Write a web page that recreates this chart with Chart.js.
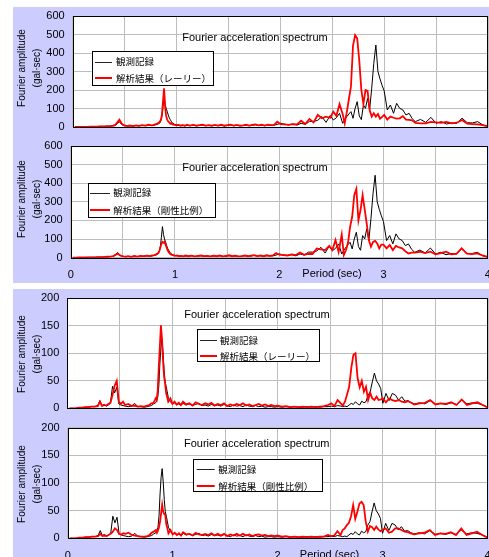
<!DOCTYPE html>
<html><head><meta charset="utf-8">
<script src="https://cdn.jsdelivr.net/npm/chart.js@4.4.0/dist/chart.umd.min.js"></script>
<style>
html,body{margin:0;padding:0;background:#fff;width:489px;height:557px;overflow:hidden;}
.bg{position:absolute;background:#CCCCFF;}
canvas{position:absolute;left:0;}
</style></head><body>
<div class="bg" style="left:13px;top:7px;width:476px;height:276px"></div>
<div class="bg" style="left:13px;top:289px;width:476px;height:268px"></div>
<canvas id="c1" width="489" height="135" style="top:0px"></canvas>
<canvas id="c2" width="489" height="148" style="top:135px"></canvas>
<canvas id="c3" width="489" height="135" style="top:283px"></canvas>
<canvas id="c4" width="489" height="139" style="top:418px"></canvas>
<script>
// ---- data (period in sec, Fourier amplitude in gal·sec) ----
const periods = [
 0.02,0.05,0.08,0.11,0.14,0.17,0.20,0.23,0.26,0.29,
 0.31,0.33,0.35,0.37,0.39,0.41,0.43,0.45,0.47,0.49,
 0.51,0.53,0.55,0.58,0.61,0.64,0.67,0.70,0.73,0.76,
 0.78,0.80,0.82,0.84,0.85,0.86,0.87,0.88,0.89,0.90,
 0.91,0.92,0.93,0.94,0.95,0.96,0.98,1.00,1.02,1.04,
 1.06,1.08,1.10,1.13,1.16,1.19,1.22,1.25,1.28,1.31,
 1.34,1.37,1.40,1.43,1.46,1.49,1.52,1.55,1.58,1.61,
 1.64,1.67,1.70,1.73,1.76,1.79,1.82,1.85,1.88,1.91,
 1.94,1.97,2.00,2.04,2.08,2.12,2.16,2.20,2.24,2.28,
 2.32,2.36,2.40,2.44,2.48,2.51,2.54,2.57,2.60,2.62,
 2.64,2.66,2.68,2.70,2.72,2.74,2.76,2.78,2.80,2.82,
 2.84,2.86,2.88,2.90,2.92,2.94,2.96,2.98,3.00,3.03,
 3.06,3.09,3.12,3.15,3.18,3.21,3.24,3.27,3.30,3.35,
 3.40,3.45,3.50,3.55,3.60,3.65,3.70,3.75,3.80,3.85,
 3.90,3.95,4.00];

// upper group: observation record
const obsA = [
 0,0,1,1,1,2,2,2,3,3,
 3,4,3,5,6,8,18,28,14,8,
 6,5,7,5,8,6,9,7,10,8,
 9,12,15,22,35,60,110,167,125,100,
 85,65,50,40,30,22,15,12,10,8,
 10,6,9,7,11,6,8,10,7,9,
 6,9,7,10,6,8,11,7,9,6,
 8,10,7,9,12,8,10,7,11,9,
 10,14,20,15,12,16,10,20,14,30,
 30,36,56,25,62,38,50,74,20,40,
 56,70,83,47,100,137,60,40,119,101,
 155,92,210,344,443,300,260,225,195,92,
 119,74,128,101,92,65,74,45,29,41,
 25,52,20,29,16,22,20,48,23,22,
 29,11,2];
// upper group: analysis (Rayleigh damping)
const rayleighA = [
 0,0,1,1,1,2,2,2,3,3,
 3,4,5,6,8,12,25,40,20,10,
 7,6,8,5,9,6,10,8,12,9,
 12,15,20,30,40,70,140,209,110,60,
 40,30,25,18,22,14,12,9,11,7,
 10,7,12,8,11,7,10,12,8,10,
 7,11,8,12,7,10,13,8,11,7,
 9,12,8,11,14,9,12,8,13,10,
 12,29,16,14,12,16,14,34,16,43,
 25,65,47,56,50,83,60,124,70,20,
 80,150,218,440,497,480,360,200,125,200,
 195,92,56,74,56,70,45,55,65,40,
 56,50,45,47,59,40,38,36,22,20,
 20,28,25,22,28,20,23,38,18,16,
 14,10,4];
// upper group: analysis (stiffness proportional damping)
const stiffA = [
 0,0,1,1,1,2,2,2,3,3,
 3,4,5,6,7,9,15,22,14,9,
 7,6,8,5,9,6,10,8,11,9,
 12,14,18,25,35,55,75,85,80,86,
 70,55,40,30,22,18,14,10,12,8,
 10,7,12,8,11,7,10,12,8,10,
 7,11,8,12,7,10,13,8,11,7,
 9,12,8,11,14,9,12,8,13,10,
 12,25,16,14,12,18,14,28,16,20,
 20,50,45,41,63,41,95,30,125,14,
 40,80,166,220,336,370,200,256,336,260,
 180,95,59,85,90,77,50,70,70,50,
 68,41,63,55,50,35,23,27,27,32,
 25,32,18,25,32,18,20,50,22,20,
 23,12,5];
// lower group: observation record
const obsB = [
 0,0,0,1,1,2,2,3,3,5,
 14,5,7,4,6,9,40,28,38,8,
 6,5,4,3,4,9,3,3,2,3,
 4,5,8,10,14,20,40,80,110,126,
 102,70,48,40,30,20,12,8,10,6,
 8,5,9,6,8,5,7,9,5,6,
 4,7,5,6,4,7,5,3,6,4,
 5,3,6,4,3,5,3,4,2,3,
 3,2,3,2,3,2,3,2,2,3,
 2,3,2,3,3,4,3,5,4,3,
 4,3,6,9,7,12,8,6,13,10,
 12,24,30,48,64,50,44,36,9,27,
 14,27,24,15,21,13,14,10,8,10,
 8,14,7,9,7,10,7,15,8,10,
 9,6,2];
// lower group: analysis (Rayleigh damping)
const rayleighB = [
 0,0,0,1,1,2,2,3,3,4,
 12,4,6,5,8,10,24,41,50,12,
 8,12,6,8,4,5,3,4,3,5,
 6,9,10,18,15,33,76,112,151,127,
 88,58,45,27,20,12,18,8,12,7,
 10,6,12,7,9,5,11,8,6,9,
 7,10,5,8,6,9,4,7,5,8,
 6,9,5,7,4,6,8,5,7,4,
 6,4,5,3,4,2,3,2,3,2,
 3,2,3,4,6,9,4,15,9,5,
 12,25,39,73,97,100,55,38,50,30,
 39,15,28,18,15,21,15,16,18,11,
 18,15,13,15,12,11,13,10,7,9,
 10,15,7,9,8,11,6,16,6,9,
 11,6,1];
// lower group: analysis (stiffness proportional damping)
const stiffB = [
 0,0,0,1,1,2,2,3,3,4,
 8,4,5,4,6,8,12,18,15,8,
 7,9,8,10,6,5,4,3,3,4,
 6,10,12,15,10,14,20,30,45,61,
 48,44,42,25,18,9,15,7,10,6,
 9,5,11,7,8,5,10,7,6,8,
 6,9,5,8,5,8,4,7,5,8,
 5,8,5,7,4,6,7,5,6,4,
 5,4,5,3,4,2,3,2,3,2,
 3,2,3,3,6,4,5,13,6,15,
 18,24,28,40,60,35,48,63,66,60,
 30,12,22,20,15,21,16,13,15,18,
 10,12,18,18,15,12,11,9,7,9,
 10,15,6,9,8,11,6,18,6,9,
 12,6,1];

const chartTitle = 'Fourier acceleration spectrum';
const obsLabel = '観測記録';
const rayleighLabel = '解析結果（レーリー）';
const stiffLabel = '解析結果（剛性比例）';
const yTitleLines = ['Fourier amplitude', '(gal·sec)'];
const xTitle = 'Period (sec)';

// ---- layout of the four panels (page pixels) ----
const panels = [
 {id:'c1', top:0,   h:135, aTop:16,    aBot:127,   left:72.7, right:488,   yMax:600, yStep:100, obs:obsA, sim:rayleighA, simLabel:rayleighLabel, showX:false,
  tx:255, ty:37.7, lg:{x:91.7,y:51,w:120.6,h:34.3,r1:61.7,r2:78.3,lx:95,lw:17,tx:116}, yty:68},
 {id:'c2', top:135, h:148, aTop:146,   aBot:257.7, left:70.7, right:487.7, yMax:600, yStep:100, obs:obsA, sim:stiffA, simLabel:stiffLabel, showX:true,
  tx:255, ty:168.3, lg:{x:88.3,y:183.3,w:126.7,h:34,r1:192.7,r2:210,lx:90,lw:20,tx:113.3}, yty:199, xt:{x:332,y:274}},
 {id:'c3', top:283, h:135, aTop:298.3, aBot:408.3, left:67.3, right:488,   yMax:200, yStep:50,  obs:obsB, sim:rayleighB, simLabel:rayleighLabel, showX:false,
  tx:257, ty:315, lg:{x:196.7,y:329.3,w:121.6,h:32.4,r1:340,r2:356,lx:200,lw:17,tx:220}, yty:354},
 {id:'c4', top:418, h:139, aTop:427.7, aBot:538.3, left:67.7, right:487.5, yMax:200, yStep:50,  obs:obsB, sim:stiffB, simLabel:stiffLabel, showX:true,
  tx:256.7, ty:444.3, lg:{x:193.3,y:459.3,w:129.4,h:32.4,r1:469,r2:486,lx:196.7,lw:18,tx:218.3}, yty:484, xt:{x:329.5,y:554.5}}
];

const latin = "'Liberation Sans', Arial, sans-serif";
const jp = "'Noto Sans CJK JP', 'Noto Sans CJK SC', sans-serif";
const gridColor = '#BDBDBD';

function toXY(vals){ return periods.map((t,i)=>({x:t, y:vals[i]})); }

panels.forEach(p=>{
  const decor = {
    id:'decor_'+p.id,
    beforeDatasetsDraw(chart){ },
    beforeDraw(chart){
      const a = chart.chartArea, c = chart.ctx;
      c.save(); c.fillStyle = '#fff'; c.fillRect(a.left, a.top, a.right-a.left, a.bottom-a.top); c.restore();
    },
    afterDraw(chart){
      const a = chart.chartArea, c = chart.ctx, o = p.top;
      c.save();
      // plot border
      c.strokeStyle = '#000'; c.lineWidth = 1;
      c.strokeRect(Math.round(a.left)+0.5, Math.round(a.top)+0.5, Math.round(a.right)-Math.round(a.left)-1, Math.round(a.bottom)-Math.round(a.top));
      // title
      c.fillStyle = '#000'; c.font = '11px '+latin; c.textAlign='center'; c.textBaseline='middle';
      c.fillText(chartTitle, p.tx, p.ty - o);
      // legend
      const L = p.lg;
      c.fillStyle = '#fff'; c.fillRect(L.x, L.y-o, L.w, L.h);
      c.strokeStyle = '#000'; c.lineWidth = 1;
      c.strokeRect(Math.round(L.x)+0.5, Math.round(L.y-o)+0.5, Math.round(L.w), Math.round(L.h));
      c.beginPath(); c.strokeStyle = '#222'; c.lineWidth = 1;
      c.moveTo(L.lx, Math.round(L.r1-o)+0.5); c.lineTo(L.lx+L.lw, Math.round(L.r1-o)+0.5); c.stroke();
      c.beginPath(); c.strokeStyle = '#FF0000'; c.lineWidth = 2;
      c.moveTo(L.lx, Math.round(L.r2-o)); c.lineTo(L.lx+L.lw, Math.round(L.r2-o)); c.stroke();
      c.fillStyle = '#000'; c.font = '9.5px '+jp; c.textAlign='left'; c.textBaseline='middle';
      c.fillText(obsLabel, L.tx, L.r1-o);
      c.fillText(p.simLabel, L.tx, L.r2-o);
      // y axis title (two rotated lines)
      c.font = '10px '+latin; c.textAlign='center'; c.textBaseline='middle';
      [[22, yTitleLines[0]],[37, yTitleLines[1]]].forEach(([x,t])=>{
        c.save(); c.translate(x, p.yty - o); c.rotate(-Math.PI/2); c.fillText(t, 0, 0); c.restore();
      });
      // x axis title
      if (p.xt){ c.font = '11px '+latin; c.textAlign='center'; c.textBaseline='middle'; c.fillText(xTitle, p.xt.x, p.xt.y - o); }
      c.restore();
    }
  };
  new Chart(document.getElementById(p.id), {
    type:'line',
    data:{datasets:[
      {label:p.simLabel, data:toXY(p.sim), borderColor:'#FF0000', borderWidth:1.8, pointRadius:0, tension:0, fill:false},
      {label:obsLabel, data:toXY(p.obs), borderColor:'#000000', borderWidth:1, pointRadius:0, tension:0, fill:false}
    ]},
    options:{
      responsive:false, animation:false, events:[],
      layout:{padding:{top:p.aTop-p.top, right:489-p.right, left:0, bottom:0}},
      plugins:{legend:{display:false}, tooltip:{enabled:false}, title:{display:false}},
      scales:{
        x:{type:'linear', min:0, max:4,
           ticks:{stepSize:0.5, autoSkip:false, maxRotation:0, padding:11, color:'#000', font:{family:latin, size:11},
                  callback:(v)=> (p.showX && Number.isInteger(v)) ? String(v) : ''},
           grid:{color:gridColor, lineWidth:1, drawTicks:false}, border:{display:false},
           afterFit(s){ s.height = p.h - (p.aBot - p.top); s.paddingLeft = 0; s.paddingRight = 0; }},
        y:{min:0, max:p.yMax,
           ticks:{stepSize:p.yStep, padding:8, color:'#000', font:{family:latin, size:11}},
           grid:{color:gridColor, lineWidth:1, drawTicks:false}, border:{display:false},
           afterFit(s){ s.width = p.left; s.paddingTop = 0; s.paddingBottom = 0; }}
      }
    },
    plugins:[decor]
  });
});
</script>
</body></html>
